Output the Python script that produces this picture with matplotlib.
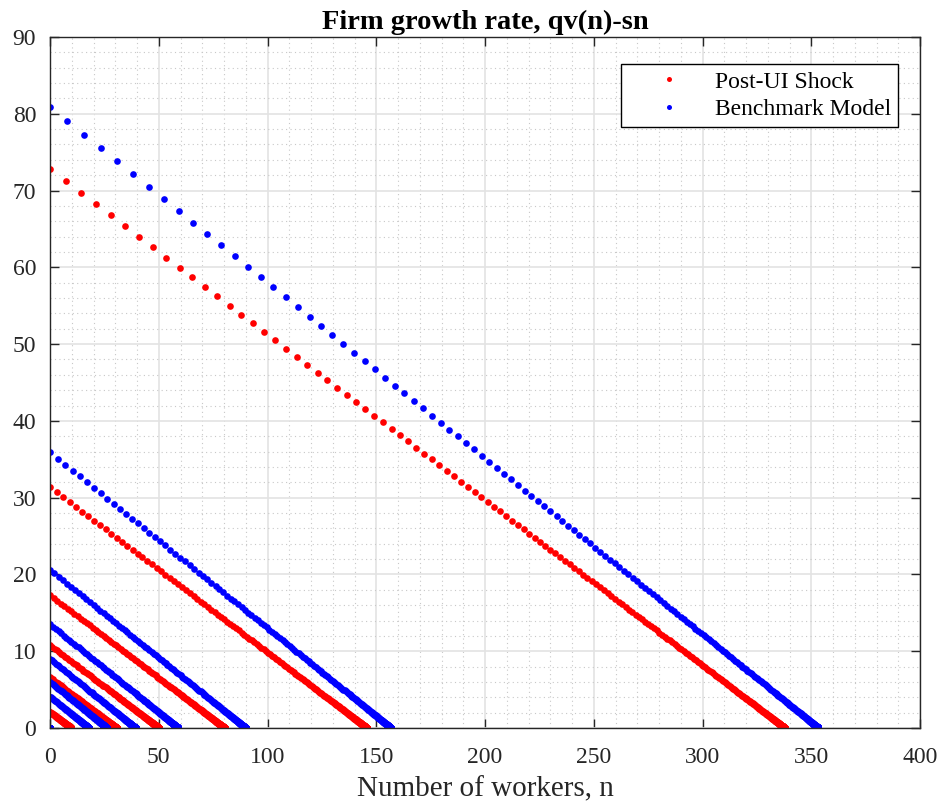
import numpy as np
import matplotlib.pyplot as plt
from matplotlib.ticker import MultipleLocator

# growth rate at n=0 for each firm type, and the slope of qv(n)-sn
post_ui_g0 = [72.8, 31.4, 17.3, 10.8, 6.6, 2.1, 0.0]
bench_g0 = [80.9, 35.9, 20.6, 13.5, 9.0, 6.0, 4.1, 0.0]
post_ui_slope = 0.2155
bench_slope = 0.2290

dt = 0.1
t = np.arange(0, 40, dt)

plt.rcParams['font.family'] = ['Liberation Serif', 'DejaVu Serif']

fig = plt.figure(figsize=(9.44, 8.09), dpi=100)
ax = fig.add_axes([0.053, 0.1001, 0.9217, 0.8542])


def firm_path(g0, slope):
    # firm grows from n=0 along dn/dt = g0 - slope*n
    decay = np.exp(-slope * t)
    n = g0 / slope * (1 - decay)
    g = g0 * decay
    return n, g


for i, g0 in enumerate(post_ui_g0):
    n, g = firm_path(g0, post_ui_slope)
    ax.plot(n, g, 'o', color='#ff0000', ms=4.8, mew=0,
            label='Post-UI Shock' if i == 0 else None)
for i, g0 in enumerate(bench_g0):
    n, g = firm_path(g0, bench_slope)
    ax.plot(n, g, 'o', color='#0000ff', ms=4.8, mew=0,
            label='Benchmark Model' if i == 0 else None)

ax.set_xlim(0, 400)
ax.set_ylim(0, 90)
ax.xaxis.set_major_locator(MultipleLocator(50))
ax.yaxis.set_major_locator(MultipleLocator(10))
ax.xaxis.set_minor_locator(MultipleLocator(10))
ax.yaxis.set_minor_locator(MultipleLocator(2))
ax.grid(which='major', color='#e3e3e3', lw=1.2)
ax.grid(which='minor', color='#c8c8c8', lw=0.8, ls=(0, (1, 3)))
ax.set_axisbelow(True)

ax.tick_params(which='major', direction='in', length=6.5, width=1,
               color='#262626', labelsize=17, top=True, right=True,
               labelcolor='#262626', pad=10)
ax.tick_params(axis='x', which='major', pad=14)
ax.tick_params(which='minor', length=0)
for sp in ax.spines.values():
    sp.set_color('#262626')
    sp.set_linewidth(1)

ax.set_title('Firm growth rate, qv(n)-sn', fontsize=20.5, fontweight='bold', pad=6)
ax.set_xlabel('Number of workers, n', fontsize=21, color='#262626', labelpad=6)

leg = ax.legend(loc='upper right', bbox_to_anchor=(0.975, 0.961),
                borderaxespad=0, fontsize=17, frameon=True, fancybox=False,
                edgecolor='black', framealpha=1, markerscale=0.75,
                handlelength=3.5, handletextpad=0.2, borderpad=0.3,
                labelspacing=0.25)
leg.get_frame().set_linewidth(1)

fig.savefig('out.png', dpi=100)
